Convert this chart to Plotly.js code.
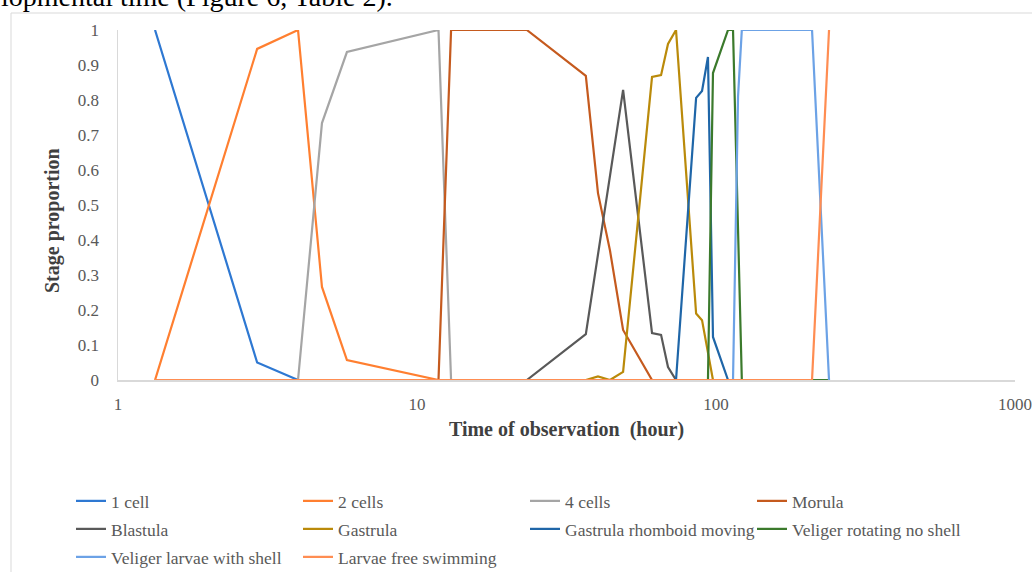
<!DOCTYPE html>
<html>
<head>
<meta charset="utf-8">
<script src="https://cdn.plot.ly/plotly-3.0.1.min.js"></script>
<style>html,body{margin:0;padding:0;background:#fff;overflow:hidden}#chart{width:1032px;height:572px}</style>
</head>
<body>
<div id="chart"></div>
<script>
// Data (time in hours, proportion 0-1)
const seriesNames = ["1 cell","2 cells","4 cells","Morula","Blastula","Gastrula","Gastrula rhomboid moving","Veliger rotating no shell","Veliger larvae with shell","Larvae free swimming"];

const t1cell = [1.33, 2.92, 4, 238.8];
const v1cell = [1, 0.05, 0, 0];

const t2cells = [1.33, 2.92, 4, 4.81, 5.83, 11.8, 238.8];
const v2cells = [0, 0.946, 1, 0.266, 0.057, 0, 0];

const t4cells = [1.33, 4, 4.81, 5.83, 11.8, 13, 238.8];
const v4cells = [0, 0, 0.734, 0.937, 1, 0, 0];

const tMorula = [1.33, 11.8, 13, 23.3, 36.7, 40.3, 44.2, 48.9, 61.1, 238.8];
const vMorula = [0, 0, 1, 1, 0.869, 0.534, 0.37, 0.143, 0, 0];

const tBlastula = [1.33, 23.3, 36.7, 48.9, 61.1, 65.5, 69.1, 73.5, 238.8];
const vBlastula = [0, 0, 0.131, 0.829, 0.134, 0.129, 0.037, 0, 0];

const tGastrula = [1.33, 36.7, 40.3, 44.2, 48.9, 61.1, 65.5, 69.1, 73.5, 85.8, 89.8, 97.7, 238.8];
const vGastrula = [0, 0, 0.01, 0, 0.023, 0.866, 0.871, 0.96, 1, 0.19, 0.171, 0, 0];

const tRhomboid = [1.33, 73.5, 85.8, 89.8, 94, 97.7, 109.7, 238.8];
const vRhomboid = [0, 0, 0.806, 0.826, 0.923, 0.123, 0, 0];

const tVelRot = [1.33, 94, 97.7, 109.7, 114, 122, 238.8];
const vVelRot = [0, 0, 0.877, 1, 1, 0, 0];

const tVelShell = [1.33, 114, 118.5, 122, 209.5, 238.8];
const vVelShell = [0, 0, 0.81, 1, 1, 0];

const tFree = [1.33, 209.5, 238.8];
const vFree = [0, 0, 1];

const xTickVals = [1, 10, 100, 1000];
const xTickText = ["1", "10", "100", "1000"];
const yTickVals = [0, 0.1, 0.2, 0.3, 0.4, 0.5, 0.6, 0.7, 0.8, 0.9, 1];
const yTickText = ["0", "0.1", "0.2", "0.3", "0.4", "0.5", "0.6", "0.7", "0.8", "0.9", "1"];

const colors = ["#2E78D2","#FF7F30","#A5A5A5","#C55A1E","#595959","#BA8A0A","#1F66A8","#3B7A2C","#6CA2E6","#FF8D52"];
const legendOf = ["legend","legend","legend","legend","legend2","legend2","legend2","legend2","legend3","legend3"];

const xs = [t1cell,t2cells,t4cells,tMorula,tBlastula,tGastrula,tRhomboid,tVelRot,tVelShell,tFree];
const ys = [v1cell,v2cells,v4cells,vMorula,vBlastula,vGastrula,vRhomboid,vVelRot,vVelShell,vFree];

const traces = seriesNames.map((n,i)=>({
  type:'scatter', mode:'lines', name:n, x:xs[i], y:ys[i],
  line:{color:colors[i], width:2.2}, cliponaxis:false, legend:legendOf[i]
}));

const W=1032,H=572,L=118,R=17,T=30,B=192;
const pw=W-L-R, ph=H-T-B;
const px=(x)=>(x-L)/pw;
const py=(y)=>(H-B-y)/ph;

const serif = "Liberation Serif, Times New Roman, serif";
const legBase = {orientation:'h', xanchor:'left', yanchor:'middle', x:px(71), entrywidth:182, entrywidthmode:'pixels',
  font:{family:serif,size:17.5,color:'#595959'}, bgcolor:'rgba(0,0,0,0)', traceorder:'normal', itemwidth:30};

const layout = {
  width:W, height:H,
  margin:{l:L,r:R,t:T,b:B,autoexpand:false},
  paper_bgcolor:'#fff', plot_bgcolor:'#fff',
  font:{family:serif,color:'#595959'},
  xaxis:{type:'log', range:[0,3], tickvals:xTickVals, ticktext:xTickText, showgrid:false, zeroline:false,
    showline:true, linecolor:'#D9D9D9', linewidth:1.5, ticks:'', ticklabelstandoff:8,
    tickfont:{family:serif,size:17,color:'#595959'},
    title:{text:'<b>Time of observation  (hour)</b>', font:{family:serif,size:20,color:'#404040'}, standoff:9}},
  yaxis:{range:[0,1], tickvals:yTickVals, ticktext:yTickText, showgrid:false, zeroline:false,
    showline:true, linecolor:'#D9D9D9', linewidth:1.5, ticks:'', ticklabelstandoff:14,
    tickfont:{family:serif,size:17,color:'#595959'}},
  legend: Object.assign({}, legBase, {y:py(501)}),
  legend2: Object.assign({}, legBase, {y:py(529)}),
  legend3: Object.assign({}, legBase, {y:py(557)}),
  shapes:[{type:'rect', xref:'paper', yref:'paper', x0:px(11), x1:px(1060), y0:py(13), y1:py(600),
    line:{color:'#D9D9D9', width:1}, fillcolor:'rgba(0,0,0,0)', layer:'below'}],
  annotations:[
    {xref:'paper', yref:'paper', x:px(-1), y:py(-3), xanchor:'left', yanchor:'middle',
      text:'lopmental time (Figure 6, Table 2).', showarrow:false,
      font:{family:serif,size:28,color:'#000'}},
    {xref:'paper', yref:'paper', x:px(52), y:py(221), xanchor:'center', yanchor:'middle', textangle:-90,
      text:'<b>Stage proportion</b>', showarrow:false,
      font:{family:serif,size:20,color:'#404040'}}
  ]
};

Plotly.newPlot('chart', traces, layout, {displayModeBar:false, staticPlot:true});
</script>
</body>
</html>
